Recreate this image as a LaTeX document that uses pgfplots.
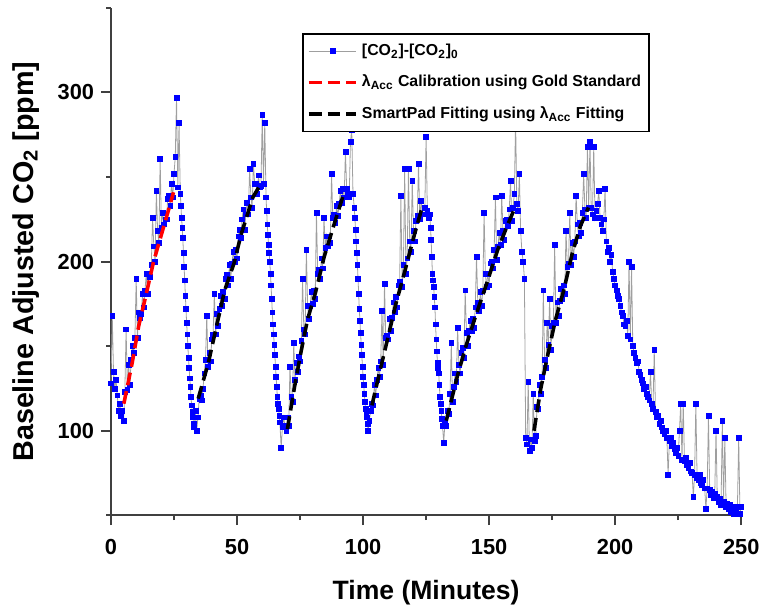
\documentclass[border=0pt]{standalone}
\usepackage{pgfplots}
\pgfplotsset{compat=1.18}
\usepackage{pgfplotstable}
\usepackage{fontspec}
\setmainfont{Liberation Sans}

% Baseline-adjusted CO2 readings (time in minutes, ppm)
\pgfplotstableread[row sep=\\]{
x y\\
0 128\\ 0.5 168\\ 1 135\\ 1.5 125\\ 2 130\\ 2.5 121\\ 3 112\\ 3.5 116\\ 4 109\\ 4.5 112\\ 5 106\\
5.5 123\\ 6 160\\ 6.5 124\\ 7 139\\ 7.5 127\\ 8 142\\ 8.5 150\\ 9 146\\ 9.5 155\\ 10 190\\
10.5 155\\ 11 170\\ 11.5 167\\ 12 169\\ 12.5 181\\ 13 173\\ 13.5 183\\ 14 193\\ 14.5 181\\ 15 193\\
15.5 191\\ 16 198\\ 16.5 226\\ 17 209\\ 17.5 200\\ 18 242\\ 18.5 218\\ 19 211\\ 19.5 261\\ 20 220\\
20.5 229\\ 21 222\\ 21.5 225\\ 22 225\\ 22.5 237\\ 23 239\\ 23.5 233\\ 24 246\\ 24.5 238\\ 25 252\\
25.5 262\\ 26 297\\ 26.5 244\\ 27 282\\ 27.5 240\\
27.75 233\\ 28 226\\ 28.25 220\\ 28.5 214\\ 28.75 205\\ 29 197\\ 29.25 189\\ 29.5 180\\ 29.75 172\\ 30 164\\
30.25 157\\ 30.5 150\\ 30.75 143\\ 31 137\\ 31.25 131\\ 31.5 126\\ 31.75 120\\ 32 115\\ 32.25 111\\ 32.5 108\\
32.75 104\\ 33 102\\ 33.5 112\\ 34 100\\ 34.5 108\\
35 119\\ 35.5 121\\ 36 118\\ 36.5 125\\ 37 134\\ 37.5 142\\ 38 168\\ 38.5 138\\ 39 146\\ 39.5 141\\
40 154\\ 40.5 157\\ 41 181\\ 41.5 157\\ 42 169\\ 42.5 162\\ 43 172\\ 43.5 180\\ 44 174\\ 44.5 182\\
45 178\\ 45.5 190\\ 46 192\\ 46.5 186\\ 47 198\\ 47.5 190\\ 48 199\\ 48.5 206\\ 49 200\\ 49.5 207\\
50 202\\ 50.5 215\\ 51 219\\ 51.5 214\\ 52 225\\ 52.5 231\\ 53 219\\ 53.5 228\\ 54 235\\ 54.5 228\\
55 255\\ 55.5 238\\ 56 232\\ 56.5 258\\ 57 246\\ 57.5 246\\ 58 240\\ 58.5 251\\ 59 244\\ 59.5 245\\
60 287\\ 60.5 246\\ 61 282\\ 61.5 238\\
61.75 230\\ 62 222\\ 62.25 216\\ 62.5 210\\ 62.75 205\\ 63 200\\ 63.25 193\\ 63.5 186\\ 63.75 178\\ 64 170\\
64.25 163\\ 64.5 157\\ 64.75 151\\ 65 145\\ 65.25 138\\ 65.5 132\\ 65.75 126\\ 66 120\\ 66.25 116\\ 66.5 113\\
66.75 109\\ 67 105\\ 67.5 90\\ 68 102\\ 68.5 108\\
69 103\\ 69.5 100\\ 70 108\\ 70.5 103\\ 71 138\\ 71.5 120\\ 72 117\\ 72.5 152\\ 73 130\\ 73.5 140\\
74 135\\ 74.5 144\\ 75 141\\ 75.5 153\\ 76 190\\ 76.5 160\\ 77 157\\ 77.5 207\\ 78 174\\ 78.5 166\\
79 174\\ 79.5 182\\ 80 175\\ 80.5 183\\ 81 178\\ 81.5 229\\ 82 193\\ 82.5 195\\ 83 190\\ 83.5 202\\
84 196\\ 84.5 226\\ 85 208\\ 85.5 215\\ 86 209\\ 86.5 215\\ 87 211\\ 87.5 252\\ 88 226\\ 88.5 228\\
89 223\\ 89.5 233\\ 90 227\\ 90.5 234\\ 91 242\\ 91.5 235\\ 92 243\\ 92.5 238\\ 93 265\\ 93.5 243\\
94 240\\ 94.5 238\\ 95 271\\ 95.5 278\\ 96 240\\ 96.5 232\\
96.75 226\\ 97 219\\ 97.25 212\\ 97.5 205\\ 97.75 198\\ 98 190\\ 98.25 181\\ 98.5 172\\ 98.75 165\\ 99 158\\
99.25 151\\ 99.5 145\\ 99.75 138\\ 100 132\\ 100.25 127\\ 100.5 122\\ 100.75 117\\ 101 113\\ 101.25 110\\ 101.5 108\\
101.75 104\\ 102 100\\ 102.5 106\\ 103 112\\
103.5 116\\ 104 115\\ 104.5 127\\ 105 121\\ 105.5 130\\ 106 137\\ 106.5 132\\ 107 141\\ 107.5 171\\ 108 139\\
108.5 187\\ 109 155\\ 109.5 156\\ 110 154\\ 110.5 166\\ 111 159\\ 111.5 167\\ 112 176\\ 112.5 170\\ 113 179\\
113.5 173\\ 114 186\\ 114.5 188\\ 115 239\\ 115.5 185\\ 116 198\\ 116.5 255\\ 117 193\\ 117.5 202\\ 118 255\\
118.5 212\\ 119 206\\ 119.5 248\\ 120 218\\ 120.5 212\\ 121 224\\ 121.5 227\\ 122 258\\ 122.5 225\\ 123 236\\
123.5 228\\ 124 228\\ 124.5 232\\ 125 274\\ 125.5 230\\ 126 226\\ 126.5 228\\
126.75 220\\ 127 213\\ 127.25 203\\ 127.5 193\\ 127.75 189\\ 128 185\\ 128.25 179\\ 128.5 173\\ 128.75 163\\ 129 154\\
129.25 147\\ 129.5 140\\ 129.75 137\\ 130 134\\ 130.25 127\\ 130.5 120\\ 130.75 116\\ 131 112\\ 131.25 107\\ 131.5 103\\
132 93\\ 132.5 106\\ 133 103\\
133.5 112\\ 134 110\\ 134.5 122\\ 135 152\\ 135.5 117\\ 136 126\\ 136.5 134\\ 137 129\\ 137.5 161\\ 138 139\\
138.5 134\\ 139 146\\ 139.5 149\\ 140 143\\ 140.5 183\\ 141 158\\ 141.5 150\\ 142 159\\ 142.5 165\\ 143 159\\
143.5 166\\ 144 161\\ 144.5 173\\ 145 203\\ 145.5 176\\ 146 171\\ 146.5 182\\ 147 174\\ 147.5 183\\ 148 229\\
148.5 193\\ 149 185\\ 149.5 193\\ 150 186\\ 150.5 199\\ 151 200\\ 151.5 196\\ 152 207\\ 152.5 238\\ 153 201\\
153.5 209\\ 154 217\\ 154.5 210\\ 155 239\\ 155.5 218\\ 156 213\\ 156.5 224\\ 157 225\\ 157.5 221\\ 158 231\\
158.5 248\\ 159 224\\ 159.5 232\\ 160 240\\ 160.5 284\\ 161 234\\ 161.5 230\\ 162 252\\ 162.5 218\\ 163 206\\
163.5 200\\ 164 190\\
164.5 96\\ 165 92\\ 165.5 129\\ 166 88\\ 166.5 95\\ 167 90\\ 167.5 122\\ 168 94\\ 168.5 97\\
169 114\\ 169.5 113\\ 170 127\\ 170.5 122\\ 171 132\\ 171.5 183\\ 172 142\\ 172.5 137\\ 173 164\\ 173.5 151\\
174 178\\ 174.5 148\\ 175 162\\ 175.5 164\\ 176 210\\ 176.5 164\\ 177 176\\ 177.5 168\\ 178 177\\ 178.5 184\\
179 178\\ 179.5 186\\ 180 181\\ 180.5 218\\ 181 197\\ 181.5 199\\ 182 229\\ 182.5 198\\ 183 211\\ 183.5 203\\
184 212\\ 184.5 239\\ 185 222\\ 185.5 215\\ 186 223\\ 186.5 217\\ 187 229\\ 187.5 252\\ 188 231\\ 188.5 226\\
189 268\\ 189.5 232\\ 190 271\\ 190.5 232\\ 191 228\\ 191.5 268\\ 192 226\\ 192.5 230\\ 193 234\\ 193.5 242\\
194 226\\ 194.5 222\\ 195 218\\ 195.5 225\\ 196 243\\ 196.5 212\\
197 206\\ 197.5 208\\ 198 200\\ 198.5 204\\ 199 194\\ 199.5 190\\ 200 186\\ 200.5 183\\ 201 180\\ 201.5 178\\
202 174\\ 202.5 170\\ 203 168\\ 203.5 163\\ 204 162\\ 204.5 165\\ 205 156\\ 205.5 200\\ 206 154\\ 206.5 197\\
207 150\\ 207.5 146\\ 208 143\\ 208.5 140\\ 209 141\\ 209.5 135\\ 210 133\\ 210.5 130\\ 211 128\\ 211.5 125\\
212 126\\ 212.5 122\\ 213 120\\ 213.5 118\\ 214 135\\ 214.5 116\\ 215 113\\ 215.5 148\\ 216 111\\ 216.5 108\\
217 109\\ 217.5 104\\ 218 106\\ 218.5 102\\ 219 100\\ 219.5 98\\ 220 100\\ 220.5 96\\ 221 74\\ 221.5 94\\
222 96\\ 222.5 91\\ 223 93\\ 223.5 89\\ 224 87\\ 224.5 90\\ 225 85\\ 225.5 100\\ 226 116\\ 226.5 83\\
227 116\\ 227.5 82\\ 228 84\\ 228.5 80\\ 229 78\\ 229.5 81\\ 230 76\\ 230.5 75\\ 231 61\\ 231.5 74\\
232 116\\ 232.5 72\\ 233 71\\ 233.5 74\\ 234 69\\ 234.5 68\\ 235 71\\ 235.5 66\\ 236 54\\ 236.5 66\\
237 109\\ 237.5 65\\ 238 62\\ 238.5 64\\ 239 60\\ 239.5 63\\ 240 100\\ 240.5 61\\ 241 58\\ 241.5 60\\
242 56\\ 242.5 106\\ 243 58\\ 243.5 96\\ 244 55\\ 244.5 57\\ 245 54\\ 245.5 56\\ 246 52\\ 246.5 55\\
247 51\\ 247.5 54\\ 248 52\\ 248.5 55\\ 249 96\\ 249.5 51\\ 250 55\\
}\co

\begin{document}
\begin{tikzpicture}
\begin{axis}[
  width=318pt, height=256pt, scale only axis,
  xmin=0, xmax=250, ymin=50, ymax=350,
  axis x line=bottom, axis y line=left,
  axis line style={-, black!75, line width=1pt},
  xtick={0,50,...,250}, ytick={100,200,300},
  minor xtick={25,75,...,225}, minor ytick={50,150,250,350},
  tick align=outside,
  major tick length=5pt, minor tick length=2.5pt,
  every tick/.append style={black!75, line width=1pt},
  tick label style={font=\bfseries\fontsize{11}{13}\selectfont},
  xticklabel style={yshift=-3.5pt},
  /pgf/number format/assume math mode=true,
  xlabel={Time (Minutes)},
  ylabel={Baseline Adjusted CO\textsubscript{2} [ppm]},
  x label style={font=\bfseries\fontsize{13.4}{15}\selectfont,
    at={(axis description cs:0.5,-0.152)}, anchor=center},
  y label style={font=\bfseries\fontsize{14.5}{16}\selectfont,
    at={(axis description cs:-0.135,0.5)}, anchor=center},
  clip=false,
  clip marker paths=true,
  legend cell align=left,
  legend style={at={(0.303,0.951)}, anchor=north west, draw=black,
    line width=1pt, fill=white,
    font=\bfseries\fontsize{8}{9.5}\selectfont,
    inner xsep=2pt, inner ysep=3pt, row sep=4.5pt,
    /tikz/every even column/.append style={column sep=2pt}},
  legend image code/.code={\draw[mark repeat=2,mark phase=2,#1] plot coordinates {(0pt,0pt) (12pt,0pt) (24pt,0pt)};},
]
\addplot[color=gray!75, line width=0.4pt, mark=square*, mark size=1.2pt,
  mark options={draw=blue, fill=blue, line width=0.3pt}] table[x=x, y=y] {\co};
\addlegendentry{[CO\textsubscript{2}]-[CO\textsubscript{2}]\textsubscript{0}}

% accumulation fit calibrated against the reference instrument
\addplot[red, line width=1.8pt, dash pattern=on 6.5pt off 3pt] coordinates {
  (5.1,116) (8.4,140) (11,162) (13.7,179) (16.9,200) (20.2,217) (23.5,234) (24.8,241)};
\addlegendentry{λ\textsubscript{Acc} Calibration using Gold Standard}

% SmartPad fits, one per accumulation period
\addplot[black, line width=1.8pt, dash pattern=on 6.5pt off 3pt, unbounded coords=jump] coordinates {
  (34.6,119) (38.6,140) (41.9,162) (45.1,183) (48.8,199) (51.6,216) (56.3,238) (59,245) (64,nan)
  (70,101) (72.7,125) (75.3,146) (78,166) (81,181) (84.6,203) (88.5,222) (92.5,241) (98,nan)
  (103.5,115) (106.8,136) (110,156) (113,175) (116.7,195) (120,214) (123.2,231) (128,nan)
  (133,106) (137.7,134) (141,151) (144.9,169) (148.8,186) (153.4,207) (157.4,222) (160,231) (164,nan)
  (167.8,100) (170.5,125) (173.7,148) (176.4,166) (179.6,183) (183,205) (186.2,221) (189.4,232)};
\addlegendentry{SmartPad Fitting using λ\textsubscript{Acc} Fitting}
\end{axis}
\path ([xshift=-56pt,yshift=-43pt]current axis.south west) ([xshift=9pt,yshift=4pt]current axis.north east);
\end{tikzpicture}
\end{document}
